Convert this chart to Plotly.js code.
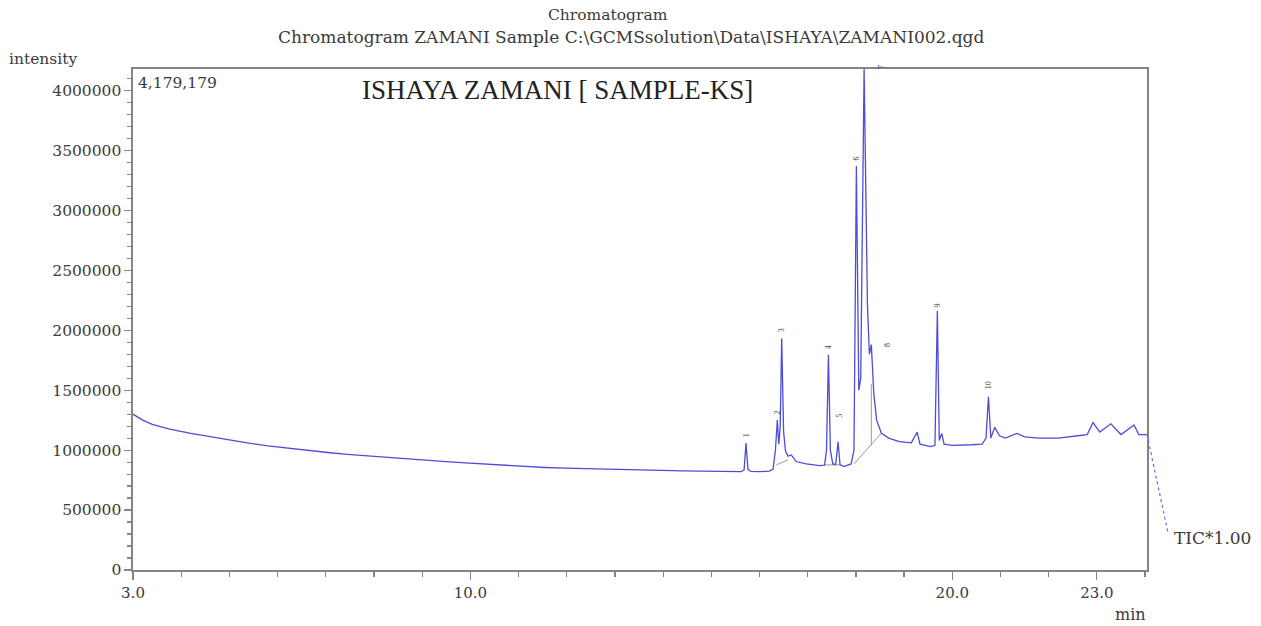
<!DOCTYPE html>
<html>
<head>
<meta charset="utf-8">
<script src="https://cdn.plot.ly/plotly-3.0.1.min.js"></script>
<style>html,body{margin:0;padding:0;background:#fff;}#chart{width:1261px;height:626px;}</style>
</head>
<body>
<div id="chart"></div>
<script>
// Retention time (min) and TIC intensity
var retentionTime = [
  3.00, 3.20, 3.40, 3.76, 4.20, 4.58, 5.00, 5.40, 5.80, 6.22, 6.60, 7.04, 7.45, 7.86, 8.27, 8.68,
  9.10, 9.49, 9.90, 10.32, 10.70, 11.13, 11.55, 11.96, 12.37, 12.77, 13.20, 13.60, 14.00, 14.41,
  14.80, 15.24, 15.62, 15.68, 15.72, 15.76, 15.82, 16.00, 16.20, 16.28, 16.33, 16.37, 16.40, 16.43,
  16.46, 16.50, 16.54, 16.59, 16.66, 16.76, 16.97, 17.25, 17.35, 17.39, 17.43, 17.47, 17.52, 17.58,
  17.63, 17.67, 17.75, 17.90, 17.96, 18.01, 18.06, 18.10, 18.17, 18.24, 18.28, 18.32, 18.37, 18.43,
  18.53, 18.68, 18.90, 19.15, 19.27, 19.33, 19.55, 19.64, 19.69, 19.73, 19.78, 19.83, 20.00, 20.40,
  20.62, 20.70, 20.75, 20.80, 20.88, 20.98, 21.10, 21.34, 21.50, 21.80, 22.20, 22.60, 22.80, 22.92,
  23.06, 23.29, 23.50, 23.77, 23.87, 24.04
];
var intensity = [
  1300000, 1250000, 1215000, 1175000, 1140000, 1113000, 1083000, 1058000, 1036000, 1016000, 998000, 980000, 965000, 952000, 938000, 924000,
  913000, 904000, 893000, 883000, 872000, 863000, 855000, 849000, 845000, 841000, 835000, 829000, 828000, 827000,
  824000, 821000, 820000, 835000, 1058000, 840000, 822000, 820000, 825000, 840000, 1000000, 1250000, 1050000, 1200000,
  1930000, 1150000, 990000, 950000, 960000, 905000, 885000, 870000, 875000, 1000000, 1795000, 1000000, 885000, 880000,
  1070000, 880000, 863000, 885000, 1000000, 3370000, 1500000, 1600000, 4179179, 2200000, 1800000, 1880000, 1480000, 1250000,
  1140000, 1100000, 1070000, 1060000, 1150000, 1050000, 1030000, 1040000, 2160000, 1080000, 1140000, 1050000, 1040000, 1045000,
  1050000, 1100000, 1445000, 1100000, 1190000, 1120000, 1100000, 1140000, 1110000, 1100000, 1100000, 1120000, 1130000, 1230000,
  1150000, 1220000, 1130000, 1210000, 1130000, 1130000
];

// Integration baselines / drop lines drawn by the software (null separates segments)
var baselineTime = [16.35, 16.59, null, 17.36, 17.67, null, 17.96, 18.53, null, 18.32, 18.32];
var baselineIntensity = [877000, 919000, null, 877000, 877000, null, 885000, 1142000, null, 1040000, 1550000];

// Peak numbers with their retention times and heights
var peakLabels = ["1", "2", "3", "4", "5", "6", "7", "8", "9", "10"];
var peakTimes = [15.72, 16.37, 16.46, 17.43, 17.63, 18.01, 18.17, 18.32, 19.69, 20.75];
var peakHeights = [1058000, 1250000, 1930000, 1795000, 1070000, 3370000, 4179179, 1880000, 2160000, 1445000];

// Axis ticks
var xTickVals = [3.0, 10.0, 20.0, 23.0];
var xTickText = ["3.0", "10.0", "20.0", "23.0"];
var yMax = 4179179;
var xMin = 3.0, xMax = 24.04;

var serif = "Liberation Serif, Times New Roman, serif";
var wide = "DejaVu Serif, serif";
var gray = "#858585";
var textCol = "#3a3a3a";

var traces = [
  {
    x: baselineTime, y: baselineIntensity, type: "scatter", mode: "lines",
    line: {color: "#9a9a9a", width: 1}, connectgaps: false, hoverinfo: "skip", showlegend: false
  },
  {
    x: retentionTime, y: intensity, type: "scatter", mode: "lines",
    line: {color: "#4d4dd8", width: 1.3}, showlegend: false
  }
];

var labelShift = [[0, 4], [0, 4], [0, 4], [0, 4], [2, 22], [0, 4], [17, -2], [16, -4], [0, 2], [0, 6]];
var annotations = peakLabels.map(function (lab, i) {
  return {
    x: peakTimes[i], y: peakHeights[i], xref: "x", yref: "y", text: lab, showarrow: false,
    textangle: -90, font: {family: serif, size: 8, color: "#444"},
    xanchor: "center", yanchor: "bottom", xshift: labelShift[i][0], yshift: labelShift[i][1]
  };
});

annotations.push(
  {xref: "paper", yref: "paper", x: 0.4684, y: 1.108, text: "Chromatogram", showarrow: false,
   xanchor: "center", yanchor: "middle", font: {family: wide, size: 15.5, color: textCol}},
  {xref: "paper", yref: "paper", x: 0.4921, y: 1.064,
   text: "Chromatogram ZAMANI Sample C:\\GCMSsolution\\Data\\ISHAYA\\ZAMANI002.qgd", showarrow: false,
   xanchor: "center", yanchor: "middle", font: {family: wide, size: 17, color: textCol}},
  {xref: "paper", yref: "paper", x: -0.124, y: 1.02, text: "intensity", showarrow: false,
   xanchor: "left", yanchor: "middle", font: {family: wide, size: 15.5, color: textCol}},
  {xref: "paper", yref: "paper", x: 0.003, y: 0.972, text: "4,179,179", showarrow: false,
   xanchor: "left", yanchor: "middle", font: {family: wide, size: 15.5, color: textCol}},
  {xref: "paper", yref: "paper", x: 0.4185, y: 0.958, text: "ISHAYA ZAMANI [ SAMPLE-KS]", showarrow: false,
   xanchor: "center", yanchor: "middle", font: {family: serif, size: 27, color: "#222"}},
  {xref: "paper", yref: "paper", x: 0.984, y: -0.088, text: "min", showarrow: false,
   xanchor: "center", yanchor: "middle", font: {family: wide, size: 16, color: textCol}},
  {xref: "paper", yref: "paper", x: 1.025, y: 0.064, text: "TIC*1.00", showarrow: false,
   xanchor: "left", yanchor: "middle", font: {family: wide, size: 17, color: textCol}}
);

var lastY = intensity[intensity.length - 1] / yMax;
var shapes = [
  {type: "line", xref: "paper", yref: "paper", x0: 1.0, y0: lastY, x1: 1.021, y1: 0.072,
   line: {color: "#6a6ae0", width: 1.2, dash: "dot"}}
];

var layout = {
  width: 1261, height: 626,
  margin: {l: 133, r: 114, t: 69, b: 56, pad: 0},
  paper_bgcolor: "#ffffff", plot_bgcolor: "#ffffff",
  showlegend: false,
  font: {family: wide, color: textCol},
  xaxis: {
    range: [xMin, xMax], tickmode: "array", tickvals: xTickVals, ticktext: xTickText,
    ticks: "outside", ticklen: 8, tickwidth: 1.2, tickcolor: gray,
    showline: true, linecolor: gray, linewidth: 1.6, mirror: true,
    showgrid: false, zeroline: false,
    tickfont: {family: wide, size: 15, color: textCol},
    minor: {dtick: 1, tick0: 3, ticks: "outside", ticklen: 5, tickwidth: 1.2, tickcolor: gray, showgrid: false}
  },
  yaxis: {
    range: [0, yMax], tickmode: "linear", tick0: 0, dtick: 500000, tickformat: "d",
    ticks: "outside", ticklen: 7, tickwidth: 1.2, tickcolor: gray,
    showline: true, linecolor: gray, linewidth: 1.6, mirror: true,
    showgrid: false, zeroline: false,
    tickfont: {family: wide, size: 15.5, color: textCol},
    minor: {dtick: 100000, tick0: 0, ticks: "outside", ticklen: 4, tickwidth: 1.2, tickcolor: gray, showgrid: false}
  },
  annotations: annotations,
  shapes: shapes
};

Plotly.newPlot("chart", traces, layout, {displayModeBar: false, staticPlot: true});
</script>
</body>
</html>
